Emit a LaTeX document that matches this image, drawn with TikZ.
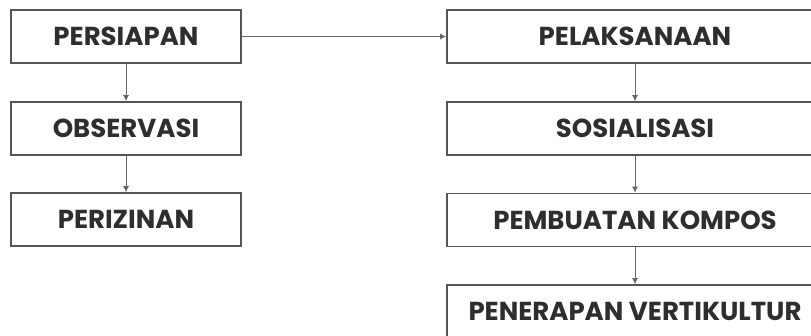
\documentclass[tikz,border=0pt]{standalone}
\usepackage{fontspec}
\setmainfont{Poppins}[UprightFont=* Bold]
\usetikzlibrary{arrows.meta}
\definecolor{txt}{HTML}{2E2E2E}
\definecolor{bord}{HTML}{555555}
\definecolor{lin}{HTML}{666666}
\tikzset{
  box/.style={draw=bord, line width=1.8pt, fill=white, rectangle, inner sep=0pt,
    minimum height=53pt, text=txt, font=\fontsize{26pt}{30pt}\selectfont},
  lbox/.style={box, minimum width=230pt},
  rbox/.style={box, minimum width=376pt},
  conn/.style={draw=lin, line width=0.8pt, -{Latex[length=6pt,width=6pt]}}
}
\begin{document}
\begin{tikzpicture}[x=1pt,y=-1pt]
\useasboundingbox (0,0) rectangle (811,335);
\clip (0,0) rectangle (811,335);
\node[lbox] (p) at (126,36.5) {PERSIAPAN};
\node[lbox] (o) at (126,128.5) {OBSERVASI};
\node[lbox] (z) at (126,219.5) {PERIZINAN};
\node[rbox] (pl) at (635,36.5) {PELAKSANAAN};
\node[rbox] (s) at (635,128.5) {SOSIALISASI};
\node[rbox] (k) at (635,220) {PEMBUATAN KOMPOS};
\node[rbox] (v) at (635,311.5) {PENERAPAN VERTIKULTUR};
\draw[conn] (p) -- (o);
\draw[conn] (o) -- (z);
\draw[conn] (p) -- (pl);
\draw[conn] (pl) -- (s);
\draw[conn] (s) -- (k);
\draw[conn] (k) -- (v);
\end{tikzpicture}
\end{document}
